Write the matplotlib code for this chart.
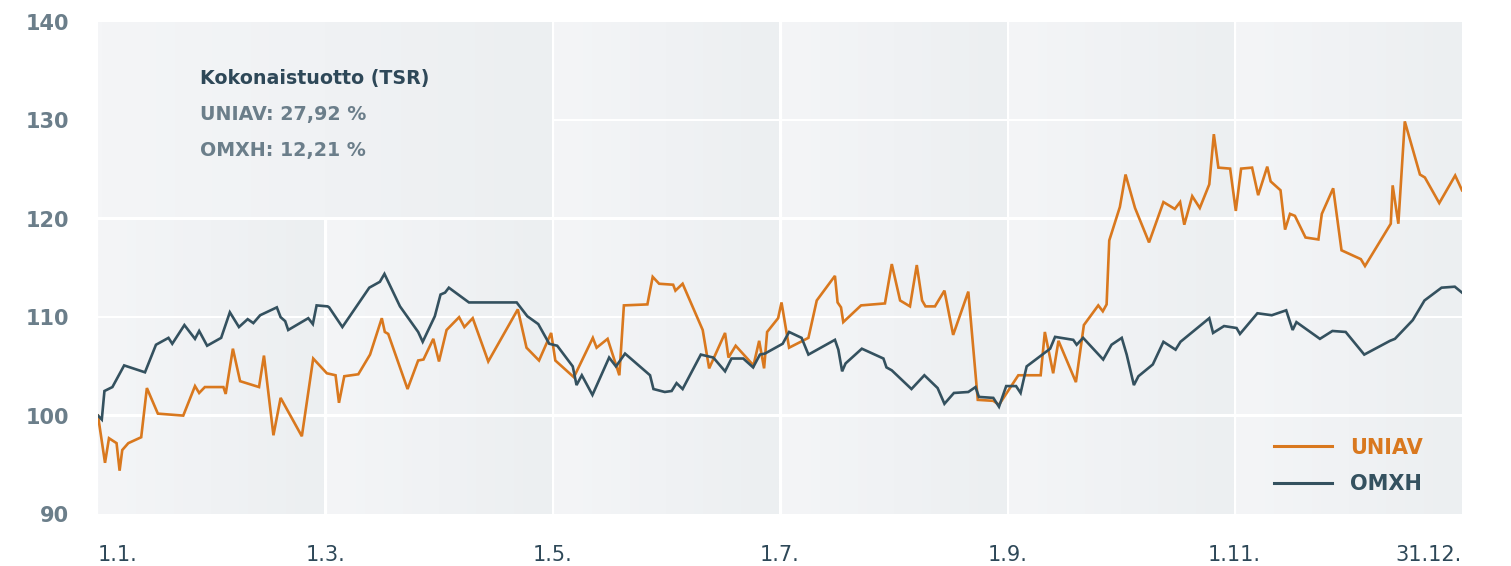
import numpy as np
import matplotlib
matplotlib.use("Agg")
import matplotlib.pyplot as plt
from matplotlib.colors import LinearSegmentedColormap

# ---------------- data ----------------
tick_positions = [0, 60, 120, 180, 240, 300, 360]
tick_labels = ['1.1.', '1.3.', '1.5.', '1.7.', '1.9.', '1.11.', '31.12.']
y_ticks = [90, 100, 110, 120, 130, 140]

uniav_x = [0, 1.85, 2.9, 4.9, 5.7, 6.4, 8.0, 11.4, 12.9, 15.8, 22.5, 25.6, 26.7, 28.2, 33.1, 33.7,
           35.6, 37.5, 42.5, 43.8, 46.3, 48.2, 53.8, 56.8, 60.4, 62.7, 63.6, 65.0, 68.7, 71.8, 74.9,
           75.7, 76.6, 81.7, 84.5, 85.9, 88.5, 90.0, 92.0, 95.3, 96.7, 98.9, 103.0, 110.8, 113.1,
           116.4, 119.6, 120.7, 125.6, 130.6, 131.6, 134.5, 137.6, 138.8, 145.0, 146.4, 148.1,
           151.8, 152.4, 154.3, 159.6, 161.3, 165.5, 166.4, 168.3, 173.0, 174.5, 175.8, 176.6,
           179.5, 180.4, 182.4, 187.5, 189.7, 194.5, 195.2, 196.1, 196.7, 201.4, 207.7, 209.5,
           211.7, 214.3, 216.1, 217.5, 218.4, 220.9, 223.4, 225.7, 229.7, 232.2, 236.3, 237.8,
           242.9, 248.8, 249.9, 252.1, 253.5, 258.1, 260.2, 264.0, 265.2, 266.2, 266.9, 269.7,
           271.2, 273.7, 277.4, 281.2, 284.2, 285.6, 286.7, 288.8, 290.8, 293.3, 294.5, 295.7,
           298.8, 300.3, 301.7, 304.6, 306.2, 308.6, 309.5, 312.1, 313.3, 314.6, 315.9, 318.7,
           322.1, 323.0, 326.0, 328.2, 333.3, 334.4, 341.2, 341.7, 343.2, 344.9, 348.9, 350.2,
           354.0, 358.2, 360]
uniav_y = [100.0, 95.2, 97.7, 97.2, 94.4, 96.5, 97.2, 97.8, 102.8, 100.2, 100.0, 103.0, 102.3, 102.9,
           102.9, 102.2, 106.8, 103.5, 102.9, 106.1, 98.0, 101.8, 97.9, 105.8, 104.3, 104.1, 101.3,
           104.0, 104.2, 106.2, 109.9, 108.5, 108.3, 102.7, 105.6, 105.7, 107.8, 105.5, 108.7,
           110.0, 109.0, 109.9, 105.5, 110.8, 106.9, 105.6, 108.4, 105.6, 103.9, 107.9, 106.9,
           107.8, 104.1, 111.2, 111.3, 114.1, 113.4, 113.3, 112.7, 113.4, 108.7, 104.8, 108.4,
           105.9, 107.1, 105.1, 107.6, 104.8, 108.5, 109.9, 111.5, 106.9, 107.9, 111.7, 114.2,
           111.5, 111.0, 109.5, 111.2, 111.4, 115.4, 111.7, 111.1, 115.3, 111.7, 111.1, 111.1,
           112.7, 108.2, 112.6, 101.6, 101.5, 101.1, 104.1, 104.1, 108.5, 104.3, 107.6, 103.4,
           109.2, 111.2, 110.6, 111.3, 117.8, 121.2, 124.5, 121.1, 117.6, 121.7, 121.0, 121.7,
           119.4, 122.3, 121.1, 123.5, 128.6, 125.2, 125.1, 120.8, 125.1, 125.2, 122.4, 125.3,
           123.8, 122.9, 118.9, 120.5, 120.3, 118.1, 117.9, 120.5, 123.1, 116.8, 115.9, 115.2,
           119.5, 123.4, 119.5, 129.9, 124.5, 124.2, 121.6, 124.4, 122.9]

omxh_x = [0, 1.0, 1.7, 3.8, 6.9, 12.4, 15.3, 18.6, 19.6, 22.8, 25.6, 26.7, 28.8, 32.5, 34.8, 37.2,
          39.5, 41.0, 42.8, 47.2, 48.2, 49.4, 50.2, 55.5, 56.7, 57.7, 60.6, 61.0, 64.5, 71.6, 74.4,
          75.6, 79.7, 84.5, 85.7, 88.9, 90.4, 91.6, 92.6, 97.9, 110.5, 113.3, 116.2, 119.1, 121.2,
          125.3, 126.3, 127.7, 130.5, 134.9, 136.7, 139.1, 145.7, 146.6, 149.6, 151.4, 152.7,
          154.3, 159.1, 162.4, 165.5, 167.2, 170.3, 172.9, 174.7, 176.0, 180.7, 182.4, 185.7,
          187.5, 194.5, 195.4, 196.4, 197.3, 201.6, 207.3, 208.1, 209.5, 214.7, 218.1, 221.6,
          223.4, 225.9, 229.7, 231.6, 232.5, 236.3, 237.8, 239.7, 242.3, 243.5, 245.1, 251.3,
          252.6, 257.4, 258.3, 260.0, 265.3, 267.5, 270.2, 271.5, 273.4, 274.6, 278.4, 281.2,
          284.4, 285.7, 293.3, 294.3, 297.2, 300.5, 301.4, 306.0, 309.8, 313.6, 315.3, 316.3,
          322.5, 325.8, 329.3, 334.2, 341.0, 342.3, 347.0, 350.1, 354.6, 358.1, 360]
omxh_y = [100.0, 99.6, 102.5, 102.9, 105.1, 104.4, 107.2, 107.9, 107.3, 109.2, 107.8, 108.6, 107.1,
          107.9, 110.5, 109.0, 109.8, 109.4, 110.2, 111.0, 110.0, 109.6, 108.7, 109.9, 109.3, 111.2,
          111.1, 111.0, 109.0, 113.0, 113.6, 114.4, 111.1, 108.5, 107.5, 110.1, 112.3, 112.5, 113.0,
          111.5, 111.5, 110.1, 109.3, 107.3, 107.1, 105.0, 103.1, 104.1, 102.1, 105.9, 105.0, 106.3,
          104.1, 102.7, 102.4, 102.5, 103.3, 102.7, 106.2, 105.9, 104.5, 105.8, 105.8, 104.9, 106.2,
          106.3, 107.3, 108.5, 107.9, 106.2, 107.7, 106.7, 104.5, 105.3, 106.8, 105.8, 104.9, 104.6,
          102.7, 104.1, 102.8, 101.2, 102.3, 102.4, 102.9, 101.9, 101.8, 100.9, 103.0, 103.0, 102.3,
          105.0, 106.8, 108.0, 107.7, 107.2, 107.9, 105.7, 107.2, 107.9, 106.2, 103.1, 104.0, 105.2,
          107.5, 106.7, 107.5, 109.9, 108.4, 109.1, 108.9, 108.3, 110.4, 110.2, 110.7, 108.7, 109.5,
          107.8, 108.6, 108.5, 106.2, 107.6, 107.8, 109.7, 111.7, 113.0, 113.1, 112.5]

series_names = ['UNIAV', 'OMXH']
tsr_title = 'Kokonaistuotto (TSR)'
tsr_lines = ['UNIAV: 27,92 %', 'OMXH: 12,21 %']

# ---------------- style ----------------
ORANGE = '#d9781e'
DARK = '#34515f'
YLAB = '#6b7e8a'
XLAB = '#2e4858'

fig = plt.figure(figsize=(15.11, 5.66), dpi=100)
ax = fig.add_axes([98 / 1511, 1 - 514 / 566, (1462 - 98) / 1511, (514 - 22) / 566])
ax.set_facecolor('white')

# background tiles with subtle horizontal gradient
cmap = LinearSegmentedColormap.from_list('bg', ['#f4f5f7', '#eceff1'])
grad = np.linspace(0, 1, 128).reshape(1, -1)
dx, dy = 0.4, 0.15
xmin, xmax = tick_positions[0], tick_positions[-1]
ymin, ymax = y_ticks[0], y_ticks[-1]


def tile(x0, x1, y0, y1):
    ex0 = x0 if x0 == xmin else x0 + dx
    ex1 = x1 if x1 == xmax else x1 - dx
    ey0 = y0 if y0 == ymin else y0 + dy
    ey1 = y1 if y1 == ymax else y1 - dy
    ax.imshow(grad, extent=[ex0, ex1, ey0, ey1], cmap=cmap, aspect='auto',
              interpolation='bilinear', zorder=0)


for i in range(len(tick_positions) - 1):
    for j in range(len(y_ticks) - 1):
        x0, x1 = tick_positions[i], tick_positions[i + 1]
        y0, y1 = y_ticks[j], y_ticks[j + 1]
        if i < 2 and j >= 3:
            continue
        tile(x0, x1, y0, y1)
# merged tile behind the TSR text box
tile(tick_positions[0], tick_positions[2], y_ticks[3], y_ticks[5])

ax.plot(uniav_x, uniav_y, color=ORANGE, lw=1.9, label=series_names[0], zorder=3,
        solid_joinstyle='miter')
ax.plot(omxh_x, omxh_y, color=DARK, lw=1.9, label=series_names[1], zorder=3,
        solid_joinstyle='miter')

ax.set_xlim(xmin, xmax)
ax.set_ylim(ymin, ymax)
for s in ax.spines.values():
    s.set_visible(False)

ax.set_yticks(y_ticks)
ax.set_yticklabels([str(v) for v in y_ticks], fontsize=15, fontweight='bold', color=YLAB)
ax.tick_params(axis='y', length=0, pad=21)
ax.set_xticks(tick_positions)
ax.set_xticklabels(tick_labels, fontsize=15, color=XLAB)
ax.tick_params(axis='x', length=0, pad=22)
xt = ax.get_xticklabels()
xt[0].set_horizontalalignment('left')
xt[-1].set_horizontalalignment('right')

# TSR annotation
ax.text(0.0746, 0.886, tsr_title, transform=ax.transAxes, fontsize=13.7, fontweight='bold',
        color=XLAB, va='center', ha='left')
for k, line in enumerate(tsr_lines):
    ax.text(0.0746, 0.886 - (0.0735 * (k + 1)), line, transform=ax.transAxes, fontsize=13.7,
            fontweight='bold', color=YLAB, va='center', ha='left')

leg = ax.legend(loc='lower right', bbox_to_anchor=(0.985, 0.002), frameon=False,
                prop={'weight': 'bold', 'size': 15}, handlelength=2.8, handletextpad=0.85,
                labelspacing=0.8, labelcolor=[ORANGE, DARK])
for h in leg.get_lines():
    h.set_linewidth(2.2)

fig.savefig('out.png', dpi=100)
